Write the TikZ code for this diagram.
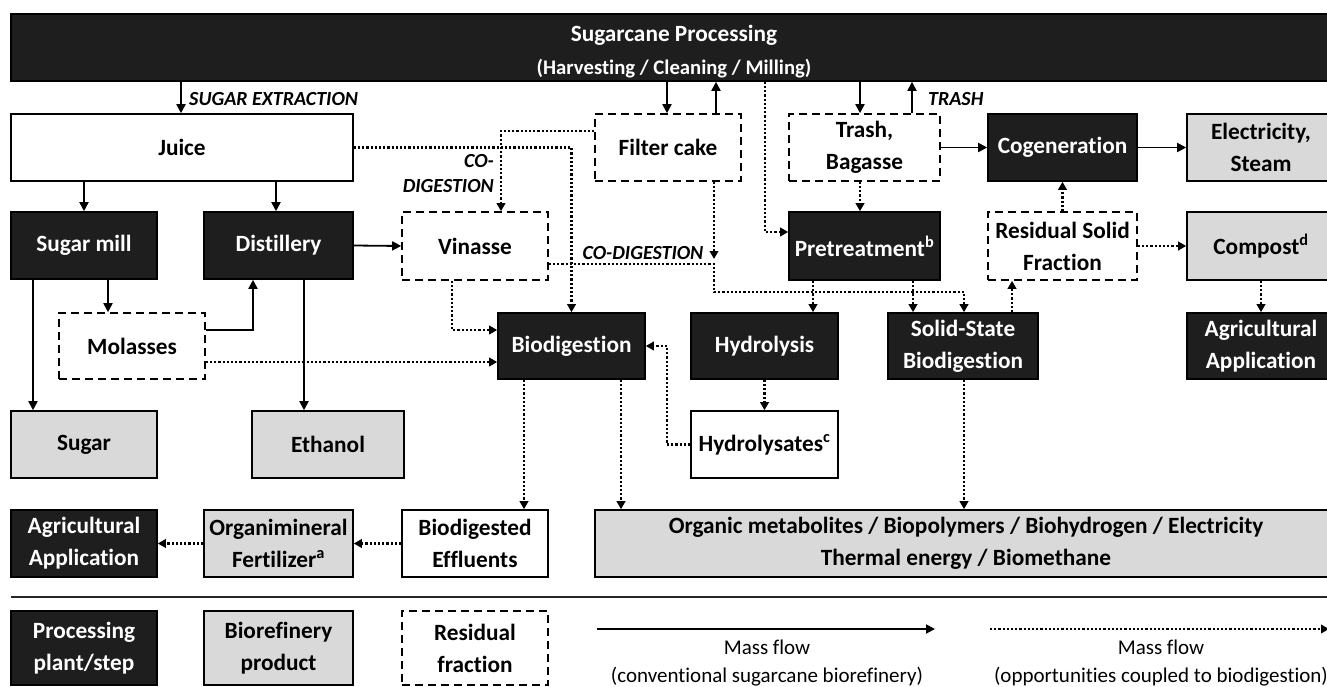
\documentclass[tikz,border=0pt]{standalone}
\usepackage{fontspec}
\setmainfont{Carlito}[Ligatures=NoCommon]
\usetikzlibrary{arrows.meta}
\definecolor{procfill}{HTML}{1E1E1E}
\definecolor{prodfill}{HTML}{D9D9D9}

\tikzset{
  box/.style={draw=black, line width=1.6pt, inner sep=0pt, align=center,
    font=\fontsize{23.3}{32}\selectfont\bfseries,
    minimum width=146pt, minimum height=67pt},
  proc/.style={box, fill=procfill, text=white},
  prod/.style={box, fill=prodfill},
  resid/.style={box, fill=white, dash pattern=on 8pt off 5pt},
  item/.style={box, fill=white},
  flow/.style={line width=1.8pt, -{Triangle[length=9pt,width=9pt]}},
  opp/.style={line width=2.2pt, dash pattern=on 2.2pt off 2pt,
    -{Triangle[length=8pt,width=8.5pt]}},
  tag/.style={font=\fontsize{20}{25}\selectfont\bfseries\itshape, inner sep=0pt},
  legtext/.style={font=\fontsize{21}{28}\selectfont, align=center, inner sep=0pt}
}

\begin{document}
\begin{tikzpicture}[x=1pt,y=-1pt]
\clip (0,0) rectangle (1327,687);
\fill[white] (0,0) rectangle (1327,687);

% ---- process boxes ----
\node[proc, minimum width=1326pt, font=\fontsize{23.3}{33}\selectfont\bfseries] (top) at (674,47.5)
  {\rule{0pt}{24pt}Sugarcane Processing\\{\fontsize{20.7}{33}\selectfont (Harvesting / Cleaning / Milling)}};

\node[item, minimum width=342pt] (juice) at (182,147.5) {Juice};
\node[resid] (filter) at (668,147.5) {Filter cake};
\node[resid, minimum width=151pt] (trash) at (864.5,147.5) {Trash,\\Bagasse};
\node[proc, minimum width=149pt] (cogen) at (1062.5,147.5) {Cogeneration};
\node[prod, minimum width=148pt] (elec) at (1261,147.5) {Electricity,\\Steam};

\node[proc] (sugarmill) at (84,245.5) {Sugar mill};
\node[proc, minimum width=149pt] (distill) at (278.5,245.5) {Distillery};
\node[resid, minimum height=68pt] (vinasse) at (475,246) {Vinasse};
\node[proc, minimum width=151pt, minimum height=68pt] (pretreat) at (864.5,246) {Pretreatment\textsuperscript{b}};
\node[resid, minimum width=149pt, minimum height=68pt] (residual) at (1062.5,246) {Residual Solid\\Fraction};
\node[prod, minimum width=148pt, minimum height=68pt] (compost) at (1261,246) {Compost\textsuperscript{d}};

\node[resid, minimum height=66pt] (molasses) at (132,346) {Molasses};
\node[proc, minimum width=147pt, minimum height=66pt] (biodig) at (571.5,346) {Biodigestion};
\node[proc, minimum width=147pt, minimum height=66pt] (hydrolysis) at (764.5,346) {Hydrolysis};
\node[proc, minimum width=150pt, minimum height=66pt] (ssbiodig) at (963,346) {Solid-State\\Biodigestion};
\node[proc, minimum width=148pt, minimum height=66pt] (agri1) at (1261,346) {Agricultural\\Application};

\node[prod] (sugar) at (84,444.5) {Sugar};
\node[prod, minimum width=152pt] (ethanol) at (328,444.5) {Ethanol};
\node[item, minimum width=147pt] (hydrolysates) at (764.5,444.5) {Hydrolysates\textsuperscript{c}};

\node[proc] (agri2) at (84,543.5) {Agricultural\\Application};
\node[prod, minimum width=149pt] (fert) at (278.5,543.5) {Organimineral\\Fertilizer\textsuperscript{a}};
\node[item] (effl) at (475,543.5) {Biodigested\\Effluents};
\node[prod, minimum width=742pt] (organic) at (966,543.5)
  {Organic metabolites / Biopolymers / Biohydrogen / Electricity\\Thermal energy / Biomethane};

% ---- conventional mass flow ----
\draw[flow] (top.south -| 181,0) -- (juice.north -| 181,0);
\draw[flow] (juice.south -| 84,0) -- (sugarmill.north);
\draw[flow] (juice.south -| 276,0) -- (distill.north -| 276,0);
\draw[flow] (sugarmill.south -| 33,0) -- (sugar.north -| 33,0);
\draw[flow] (sugarmill.south -| 108,0) -- (molasses.north -| 108,0);
\draw[flow] ([yshift=16pt]molasses.east) -| (distill.south -| 253,0);
\draw[flow] (distill.south -| 304,0) -- (ethanol.north -| 304,0);
\draw[flow] (distill.east) -- (vinasse.west);
\draw[flow] (top.south -| 667,0) -- (filter.north -| 667,0);
\draw[flow] (filter.north -| 716,0) -- (top.south -| 716,0);
\draw[flow] (top.south -| 860,0) -- (trash.north -| 860,0);
\draw[flow] (trash.north -| 912,0) -- (top.south -| 912,0);
\draw[flow] (trash.east) -- (cogen.west);
\draw[flow] (cogen.east) -- (elec.west);

\node[tag, anchor=west] (sx) at (189,99) {SUGAR EXTRACTION};
\node[tag, anchor=west] (tr) at (928,99) {TRASH};

% ---- opportunities coupled to biodigestion ----
\coordinate (cj) at (714,264);
\draw[opp] (juice.east) -| (biodig.north);
\draw[opp] ([yshift=16.5pt]filter.west) -| (vinasse.north -| 501,0);
\draw[opp] (filter.south -| cj) -- ([yshift=5pt]cj);
\draw[opp] ([yshift=-18pt]vinasse.east) -- (cj) -- (cj |- 0,292) -| (ssbiodig.north -| 964,0);
\draw[opp] (vinasse.south -| 452,0) |- ([yshift=16pt]biodig.west);
\draw[opp] ([yshift=-16pt]molasses.east) -- ([yshift=-16pt]biodig.west);
\draw[opp] (hydrolysates.west) -| (biodig.east -| 667,0) -- (biodig.east);
\draw[opp] (hydrolysis.south) -- (hydrolysates.north);
\draw[opp] (biodig.south -| 524,0) -- (effl.north -| 524,0);
\draw[opp] (biodig.south -| 621,0) -- (organic.north -| 621,0);
\draw[opp] (ssbiodig.south -| 964,0) -- (organic.north -| 964,0);
\draw[opp] (effl.west) -- (fert.east);
\draw[opp] (fert.west) -- (agri2.east);
\draw[opp] (top.south -| 765,0) |- ([yshift=14pt]pretreat.west);
\draw[opp] (trash.south -| 860,0) -- (pretreat.north -| 860,0);
\draw[opp] (pretreat.south -| 813,0) -- (hydrolysis.north -| 813,0);
\draw[opp] (pretreat.south -| 913,0) -- (ssbiodig.north -| 913,0);
\draw[opp] (ssbiodig.north -| 1012,0) -- (residual.south -| 1012,0);
\draw[opp] (residual.north) -- (cogen.south);
\draw[opp] (residual.east) -- (compost.west);
\draw[opp] (compost.south -| 1261,0) -- (agri1.north -| 1261,0);

\node[tag, anchor=east, align=right] (cd1) at (494,173.5) {CO-\\DIGESTION};
\node[tag, anchor=center] (cd2) at (643,253) {CO-DIGESTION};

% ---- legend ----
\coordinate (sepL) at (11,597);
\coordinate (sepR) at (1327,597);
\draw[line width=1.6pt, black!85] (sepL) -- (sepR);

\node[proc, minimum height=74pt] (lg1) at (84,648) {Processing\\plant/step};
\node[prod, minimum width=149pt, minimum height=74pt] (lg2) at (278.5,648) {Biorefinery\\product};
\node[resid, minimum height=74pt] (lg3) at (475,648) {Residual\\fraction};

\coordinate (fa) at (597,629);
\coordinate (fb) at (935,629);
\coordinate (oa) at (990,629);
\coordinate (ob) at (1329,629);
\draw[flow] (fa) -- (fb);
\draw[opp] (oa) -- (ob);
\node[legtext] (lt1) at (767,663) {Mass flow\\(conventional sugarcane biorefinery)};
\node[legtext] (lt2) at (1161,663) {Mass flow\\(opportunities coupled to biodigestion)};
\end{tikzpicture}
\end{document}
